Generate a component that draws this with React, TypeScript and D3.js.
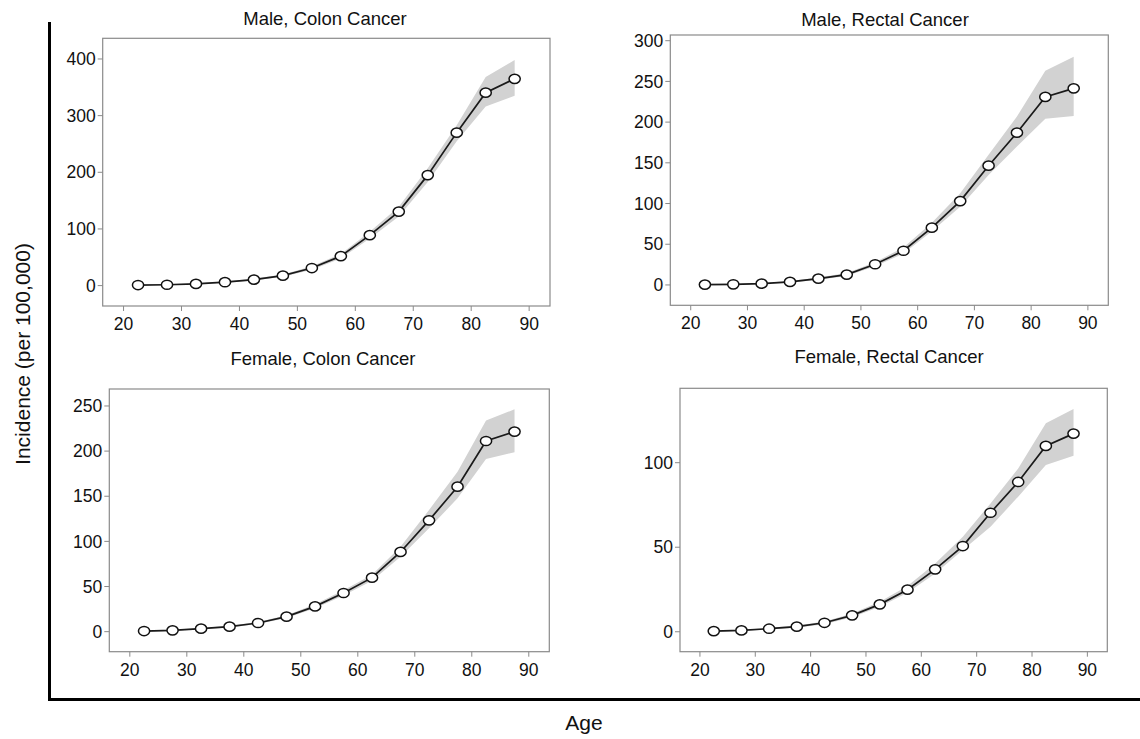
import React from "react";
import * as d3 from "d3";

const ages = [22.5, 27.5, 32.5, 37.5, 42.5, 47.5, 52.5, 57.5, 62.5, 67.5, 72.5, 77.5, 82.5, 87.5];
const xTicks = [20, 30, 40, 50, 60, 70, 80, 90];

const titles = ["Male, Colon Cancer", "Male, Rectal Cancer", "Female, Colon Cancer", "Female, Rectal Cancer"];

const maleColonMean = [1, 1.5, 3, 6, 10.6, 17.6, 31, 52, 89, 130.6, 195, 270, 340.6, 365];
const maleColonLower = [0.5, 1, 2.2, 5, 9, 15.5, 28, 48, 83, 122, 183, 255, 316, 335];
const maleColonUpper = [1.6, 2.2, 4, 7.2, 12.3, 19.8, 34, 56, 95, 139, 207, 283, 368, 398];

const maleRectalMean = [0.4, 0.8, 1.6, 3.7, 7.8, 12.7, 25.4, 42, 70.4, 103, 146.5, 187, 231, 241.5];
const maleRectalLower = [0.1, 0.4, 1.0, 2.8, 6.5, 11, 23, 38.5, 66, 96, 135, 170, 204, 207.5];
const maleRectalUpper = [0.8, 1.3, 2.3, 4.7, 9.2, 14.6, 28, 46, 76.5, 112.6, 160, 207, 263, 280.4];

const femaleColonMean = [0.7, 1.5, 3.3, 5.5, 9.6, 16.6, 28, 42.8, 59.8, 88.3, 123.3, 160.6, 211.2, 221.6];
const femaleColonLower = [0.3, 1, 2.6, 4.6, 8.4, 15, 25.8, 40, 56.5, 83, 114.5, 147.7, 191.3, 198.7];
const femaleColonUpper = [1.1, 2, 4, 6.5, 10.8, 18.3, 30.3, 45.8, 63, 94, 134.8, 177, 233.8, 246.3];

const femaleRectalMean = [0.4, 0.8, 1.8, 3, 5.3, 9.7, 16.2, 24.9, 36.9, 50.7, 70.4, 88.6, 109.9, 117.2];
const femaleRectalLower = [0.2, 0.5, 1.3, 2.4, 4.5, 8.6, 14.8, 23, 34.5, 48.3, 62.1, 79.9, 98.6, 104.1];
const femaleRectalUpper = [0.7, 1.1, 2.3, 3.7, 6.1, 10.8, 17.7, 27, 40.4, 56.2, 75.9, 96.6, 123.3, 131.8];

const maleColonTicks = [0, 100, 200, 300, 400];
const maleRectalTicks = [0, 50, 100, 150, 200, 250, 300];
const femaleColonTicks = [0, 50, 100, 150, 200, 250];
const femaleRectalTicks = [0, 50, 100];

const yLabel = "Incidence (per 100,000)";
const xLabel = "Age";

// layout (pixel geometry) per panel
const layouts = [
  { left: 102.7, top: 38.3, right: 550, bottom: 306, yDomain: [-36, 436.5], titleX: 325, titleY: 19 },
  { left: 670.3, top: 35, right: 1108.3, bottom: 305.3, yDomain: [-25, 307], titleX: 885, titleY: 20 },
  { left: 109.3, top: 389, right: 549.3, bottom: 651.7, yDomain: [-22.2, 268.8], titleX: 323, titleY: 359 },
  { left: 680, top: 388.3, right: 1107.3, bottom: 651.7, yDomain: [-11.8, 144], titleX: 889, titleY: 357 },
];

const series = [
  { mean: maleColonMean, lower: maleColonLower, upper: maleColonUpper, ticks: maleColonTicks },
  { mean: maleRectalMean, lower: maleRectalLower, upper: maleRectalUpper, ticks: maleRectalTicks },
  { mean: femaleColonMean, lower: femaleColonLower, upper: femaleColonUpper, ticks: femaleColonTicks },
  { mean: femaleRectalMean, lower: femaleRectalLower, upper: femaleRectalUpper, ticks: femaleRectalTicks },
];

const FONT = "'Liberation Sans', Arial, Helvetica, sans-serif";

function Panel({ idx }: { idx: number }) {
  const L = layouts[idx];
  const S = series[idx];
  const x = d3.scaleLinear().domain([16.4, 93.6]).range([L.left, L.right]);
  const y = d3.scaleLinear().domain(L.yDomain).range([L.bottom, L.top]);
  const rows = ages.map((a, i) => ({ a, m: S.mean[i], lo: S.lower[i], hi: S.upper[i] }));
  const area = d3
    .area<any>()
    .x((d) => x(d.a))
    .y0((d) => y(d.lo))
    .y1((d) => y(d.hi));
  const line = d3
    .line<any>()
    .x((d) => x(d.a))
    .y((d) => y(d.m));
  return (
    <g>
      <text x={L.titleX} y={L.titleY} dy="0.35em" textAnchor="middle" fontSize={18.5} fontFamily={FONT} fill="#111">
        {titles[idx]}
      </text>
      <path d={area(rows) || ""} fill="#d2d2d2" stroke="none" />
      <path d={line(rows) || ""} fill="none" stroke="#1a1a1a" strokeWidth={1.7} />
      {rows.map((d, i) => (
        <ellipse key={i} cx={x(d.a)} cy={y(d.m)} rx={5.6} ry={4.6} fill="#fff" stroke="#111" strokeWidth={1.5} />
      ))}
      <rect x={L.left} y={L.top} width={L.right - L.left} height={L.bottom - L.top} fill="none" stroke="#8a8a8a" strokeWidth={1.2} />
      {S.ticks.map((t) => (
        <g key={"y" + t}>
          <line x1={L.left - 5} x2={L.left} y1={y(t)} y2={y(t)} stroke="#8a8a8a" strokeWidth={1} />
          <text x={L.left - 7} y={y(t)} dy="0.35em" textAnchor="end" fontSize={17.5} fontFamily={FONT} fill="#111">
            {t}
          </text>
        </g>
      ))}
      {xTicks.map((t) => (
        <g key={"x" + t}>
          <line x1={x(t)} x2={x(t)} y1={L.bottom} y2={L.bottom + 5} stroke="#8a8a8a" strokeWidth={1} />
          <text x={x(t)} y={L.bottom + 18} dy="0.35em" textAnchor="middle" fontSize={17.5} fontFamily={FONT} fill="#111">
            {t}
          </text>
        </g>
      ))}
    </g>
  );
}

export default function App() {
  return (
    <svg
      width={1140}
      height={739}
      style={{ position: "absolute", left: 0, top: 0, background: "#fff" }}
    >
      <rect x={0} y={0} width={1140} height={739} fill="#fff" />
      {[0, 1, 2, 3].map((i) => (
        <Panel key={i} idx={i} />
      ))}
      <line x1={49.5} x2={49.5} y1={22} y2={701} stroke="#000" strokeWidth={3} />
      <line x1={48} x2={1140} y1={699.5} y2={699.5} stroke="#000" strokeWidth={3} />
      <text
        transform={`translate(23,354) rotate(-90)`}
        dy="0.35em"
        textAnchor="middle"
        fontSize={21}
        fontFamily={FONT}
        fill="#111"
      >
        {yLabel}
      </text>
      <text x={584} y={723} dy="0.35em" textAnchor="middle" fontSize={21} fontFamily={FONT} fill="#111">
        {xLabel}
      </text>
    </svg>
  );
}
